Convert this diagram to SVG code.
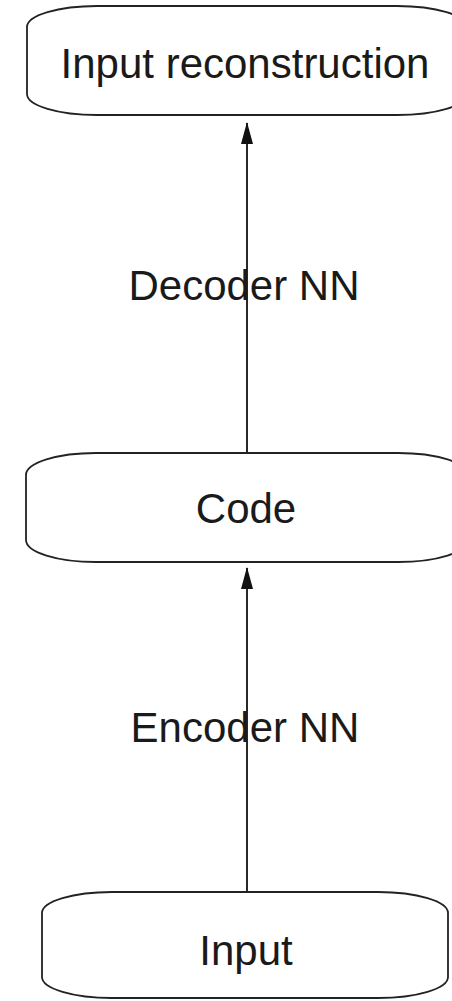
<svg xmlns="http://www.w3.org/2000/svg" width="452" height="1001" viewBox="0 0 452 1001">
  <style>
    .node { fill: #ffffff; stroke: #222222; stroke-width: 1.8; }
    .label { font-family: "Liberation Sans", Arial, sans-serif; font-size: 42px; fill: #1a1a1a; text-anchor: middle; }
    .edge { stroke: #111111; stroke-width: 1.8; fill: none; marker-end: url(#arrow); }
  </style>
  <defs>
    <!-- filled arrowhead, 22 long and 12 wide, tip on the line end -->
    <marker id="arrow" viewBox="0 0 22 12" refX="21" refY="6" markerWidth="22" markerHeight="12" markerUnits="userSpaceOnUse" orient="auto">
      <path d="M0,0 L22,6 L0,12 Z" fill="#111111"/>
    </marker>
  </defs>
  <rect width="452" height="1001" fill="#ffffff"/>

  <g id="connectors">
    <line class="edge" x1="247" y1="453" x2="247" y2="123"/>
    <line class="edge" x1="247" y1="892" x2="247" y2="568"/>
  </g>
  <g id="edge-labels">
    <text class="label" x="244" y="300">Decoder NN</text>
    <text class="label" x="245" y="742">Encoder NN</text>
  </g>

  <g id="node-reconstruction">
    <rect class="node" x="27" y="6" width="440" height="109" rx="70" ry="21"/>
    <text class="label" x="245" y="78">Input reconstruction</text>
  </g>
  <g id="node-code">
    <rect class="node" x="26" y="453" width="442" height="109" rx="70" ry="22"/>
    <text class="label" x="246" y="523">Code</text>
  </g>
  <g id="node-input">
    <rect class="node" x="42" y="892" width="406" height="106" rx="70" ry="21"/>
    <text class="label" x="246" y="965">Input</text>
  </g>
</svg>
